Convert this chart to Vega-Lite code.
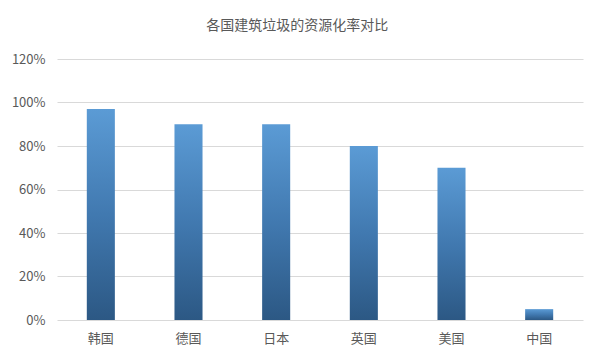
{
  "$schema": "https://vega.github.io/schema/vega-lite/v6.json",
  "width": 526,
  "height": 261,
  "autosize": {"type": "none"},
  "padding": {"left": 57, "top": 59, "right": 18, "bottom": 41},
  "background": "white",
  "title": {
    "text": "各国建筑垃圾的资源化率对比",
    "font": "Noto Sans CJK SC",
    "fontSize": 14,
    "fontWeight": "normal",
    "color": "#595959",
    "anchor": "middle",
    "frame": "bounds",
    "offset": 20
  },
  "data": {
    "values": [
      {"country": "韩国", "rate": 0.97},
      {"country": "德国", "rate": 0.90},
      {"country": "日本", "rate": 0.90},
      {"country": "英国", "rate": 0.80},
      {"country": "美国", "rate": 0.70},
      {"country": "中国", "rate": 0.05}
    ]
  },
  "mark": {
    "type": "bar",
    "color": {
      "gradient": "linear",
      "x1": 0, "y1": 0, "x2": 0, "y2": 1,
      "stops": [
        {"offset": 0, "color": "#5B9BD5"},
        {"offset": 0.5, "color": "#4179b0"},
        {"offset": 1, "color": "#2c5884"}
      ]
    }
  },
  "encoding": {
    "x": {
      "field": "country",
      "type": "nominal",
      "sort": null,
      "scale": {"paddingInner": 0.68, "paddingOuter": 0.34},
      "axis": {
        "title": null,
        "labelAngle": 0,
        "domain": false,
        "ticks": false,
        "labelPadding": 12,
        "labelFont": "Noto Sans CJK SC",
        "labelFontSize": 13,
        "labelColor": "#595959"
      }
    },
    "y": {
      "field": "rate",
      "type": "quantitative",
      "scale": {"domain": [0, 1.2], "nice": false},
      "axis": {
        "title": null,
        "format": ".0%",
        "values": [0, 0.2, 0.4, 0.6, 0.8, 1.0, 1.2],
        "domain": false,
        "ticks": false,
        "labelPadding": 12,
        "labelFont": "Noto Sans CJK SC",
        "labelFontSize": 13,
        "labelColor": "#595959",
        "gridColor": "#d9d9d9",
        "gridWidth": 1
      }
    }
  },
  "config": {"view": {"stroke": null}}
}
